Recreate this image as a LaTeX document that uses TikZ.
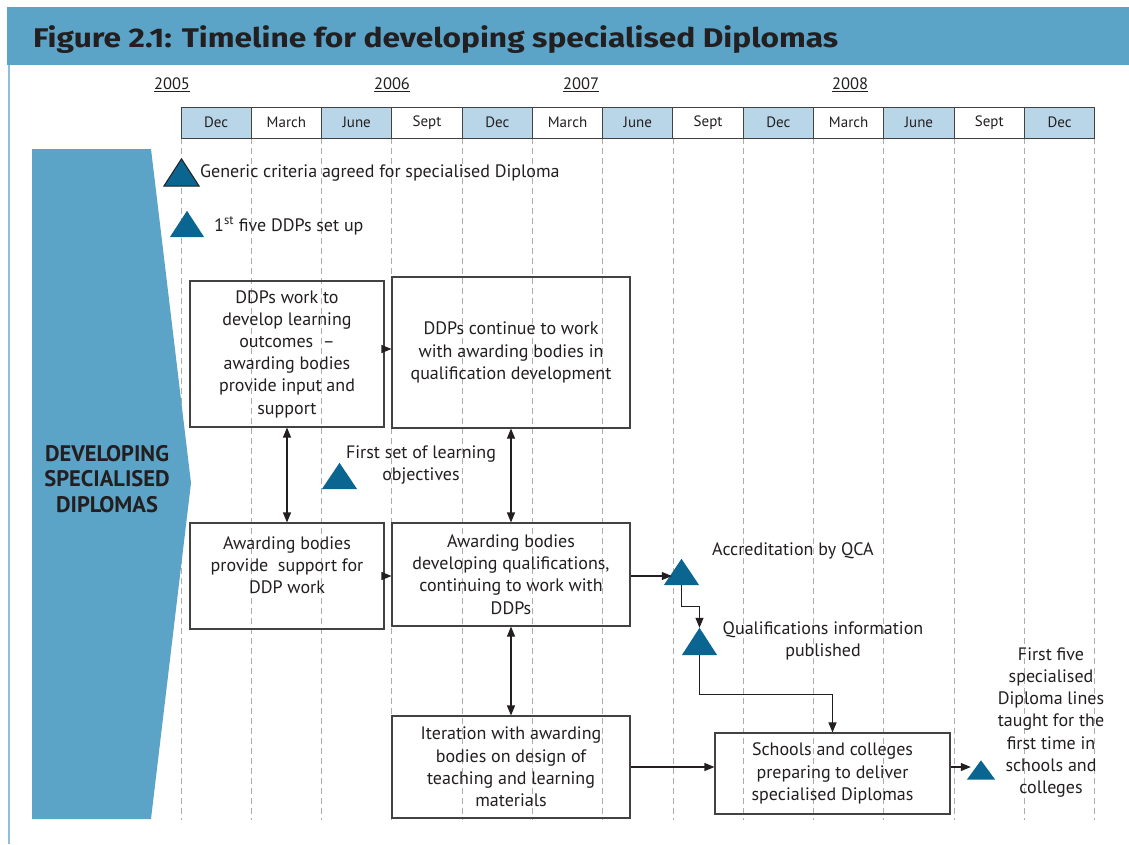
\documentclass[tikz,border=0pt]{standalone}
\usepackage{fontspec}
\setmainfont{PT Sans}
\newfontfamily\titlefont{Fira Sans}
\usetikzlibrary{arrows.meta,calc}
\definecolor{band}{HTML}{5BA4C7}
\definecolor{cell}{HTML}{B9D5E8}
\definecolor{trif}{HTML}{0A6690}
\definecolor{ink}{HTML}{231F20}
\definecolor{framec}{HTML}{8DC0DC}
\newcommand\bodyfont{\fontsize{18}{22.2}\selectfont}
\newcommand\mkmarker[4]{%
  \node[inner sep=0pt,minimum width=#3,minimum height=#4] (#1) at #2 {};
  \fill[trif] (#1.south west) -- (#1.south east) -- (#1.north) -- cycle;}
\begin{document}
\begin{tikzpicture}[x=1pt,y=-1pt,
  box/.style={draw=ink!85,line width=1.1pt,align=center,font=\bodyfont,text=ink,inner sep=0pt},
  lbl/.style={align=center,font=\bodyfont,text=ink,inner sep=0pt},
  arr/.style={draw=ink,line width=1.1pt,-{Triangle[length=10pt,width=8pt]}},
  darr/.style={draw=ink,line width=1.1pt,{Triangle[length=10pt,width=8pt]}-{Triangle[length=10pt,width=8pt]}},
  vdash/.style={draw=gray!65,line width=0.9pt,dash pattern=on 6pt off 4pt},
  month/.style={draw=ink!85,line width=1pt,minimum width=70.28pt,minimum height=31pt,inner sep=0pt,font=\fontsize{15}{17}\selectfont,text=ink},
  year/.style={font=\fontsize{16.5}{19}\selectfont,text=ink,inner sep=0pt}]
\useasboundingbox (0,0) rectangle (1129,844);
\fill[white] (0,0) rectangle (1129,844);
% header
\fill[band] (7,7) rectangle (1129,65);
\draw[framec,line width=1.5pt] (9,65) -- (9,844);
\node[anchor=base west,inner sep=0pt,text=ink] (title) at (33,47)
  {\resizebox{805pt}{\height}{\titlefont\bfseries\fontsize{27}{30}\selectfont Figure 2.1: Timeline for developing specialised Diplomas}};
% years
\node[year] (y2005) at (172,85) {\underline{2005}};
\node[year] (y2006) at (392,85) {\underline{2006}};
\node[year] (y2007) at (581,85) {\underline{2007}};
\node[year] (y2008) at (850,85) {\underline{2008}};
% dashed verticals
\foreach \i in {0,...,13}{
  \draw[vdash] ({181+70.28*\i},138) -- ({181+70.28*\i},820);
}
% months
\foreach \m [count=\i from 0] in {Dec,March,June,Sept,Dec,March,June,Sept,Dec,March,June,Sept,Dec}{
  \pgfmathtruncatemacro\cpar{mod(\i,2)}
  \ifnum\cpar=0
    \node[month,fill=cell] (m\i) at ({181+70.28*\i+35.14},122.5) {\m};
  \else
    \node[month,fill=white] (m\i) at ({181+70.28*\i+35.14},122.5) {\m};
  \fi
}
% left arrow
\fill[band] (32,149) -- (151,149) -- (191,483) -- (151,819) -- (32,819) -- cycle;
\node[align=center,text=ink,font=\bfseries\fontsize{22.5}{25.5}\selectfont,inner sep=0pt] (side) at (107,479)
  {DEVELOPING\\SPECIALISED\\DIPLOMAS};
% markers
\mkmarker{t1}{(181.5,172.5)}{35pt}{27pt}
\draw[ink,line width=1pt] (t1.south west) -- (t1.south east) -- (t1.north) -- cycle;
\mkmarker{t2}{(187,224)}{34pt}{26pt}
\mkmarker{t3}{(339.5,476)}{35pt}{26pt}
\mkmarker{tq}{(681.5,572)}{35pt}{26pt}
\mkmarker{ti}{(699.5,641.5)}{35pt}{27pt}
\mkmarker{tf}{(981,770)}{28pt}{19pt}
\node[lbl,anchor=west] (l1) at (200,173) {Generic criteria agreed for specialised Diploma};
\node[lbl,anchor=west] (l2) at (214,226) {1\textsuperscript{st} five DDPs set up};
\node[lbl] (l3) at (421,465) {First set of learning\\objectives};
\node[lbl,anchor=west] (l4) at (712,551) {Accreditation by QCA};
\node[lbl] (l5) at (823,641) {Qualifications information\\published};
\node[lbl] (l6) at (1051,722.5) {First five\\specialised\\Diploma lines\\taught for the\\first time in\\schools and\\colleges};
% boxes
\node[box,minimum width=194pt,minimum height=146pt] (A) at (287,354)
  {DDPs work to\\develop learning\\outcomes \ --\\awarding bodies\\provide input and\\support};
\node[box,minimum width=194pt,minimum height=106pt] (A2) at (287,576)
  {Awarding bodies\\provide \ support for\\DDP work\\\mbox{}};
\node[box,minimum width=238pt,minimum height=151pt] (B) at (511,352.5)
  {DDPs continue to work\\with awarding bodies in\\qualification development};
\node[box,minimum width=238pt,minimum height=103pt] (B2) at (511,574.5)
  {Awarding bodies\\developing qualifications,\\continuing to work with\\DDPs};
\node[box,minimum width=238pt,minimum height=102pt] (B3) at (511,767)
  {Iteration with awarding\\bodies on design of\\teaching and learning\\materials};
\node[box,minimum width=235pt,minimum height=81pt] (C) at (832.5,773.5)
  {Schools and colleges\\preparing to deliver\\specialised Diplomas};
% connectors
\draw[arr] ([yshift=5pt]A.east) -- ([yshift=5pt]A.east -| B.west);
\draw[arr] (A2.east) -- (A2.east -| B2.west);
\draw[darr] (A.south) -- (A2.north);
\draw[darr] (B.south) -- (B2.north);
\draw[darr] (B2.south) -- (B3.north);
\draw[arr] ([yshift=-1.5pt]B2.east) -- ($(B2.east -| tq.west)+(8,1.5)$);
\draw[arr] (tq.south) -- ++(0,21) -| (ti.north);
\draw[arr] (ti.south) -- ++(0,39) -| (C.north);
\draw[arr] (B3.east) -- (B3.east -| C.west);
\draw[arr] ([yshift=6.5pt]C.east) -- ($(C.east -| tf.west)+(4,-6.5)$);
\end{tikzpicture}
\end{document}
